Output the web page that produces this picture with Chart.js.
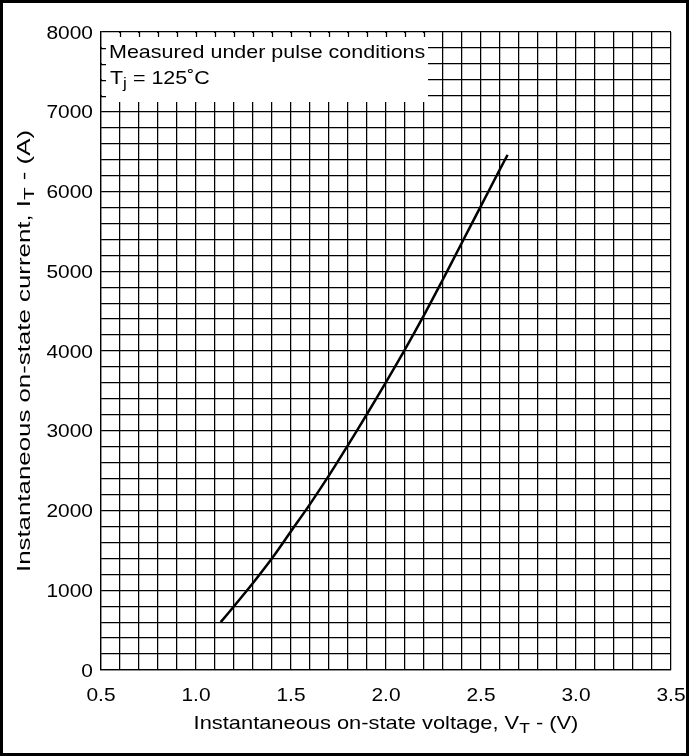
<!DOCTYPE html>
<html>
<head>
<meta charset="utf-8">
<script src="https://cdn.jsdelivr.net/npm/chart.js@4/dist/chart.umd.min.js"></script>
<style>
  html, body { margin: 0; padding: 0; background: #fff; }
  #frame { width: 689px; height: 756px; box-sizing: border-box; border: 3px solid #000; position: relative; background: #fff; }
</style>
</head>
<body>
<div id="frame"><canvas id="vt_plot"></canvas></div>
<script>
// on-state characteristic (V, A)
const voltage = [1.13, 1.2, 1.3, 1.4, 1.5, 1.6, 1.7, 1.8, 1.9, 2.0, 2.1, 2.2, 2.3, 2.4, 2.5, 2.6, 2.64];
const current = [600, 800, 1090, 1400, 1740, 2080, 2440, 2820, 3210, 3610, 4020, 4450, 4900, 5360, 5820, 6280, 6460];

const xTickLabels = ['0.5', '1.0', '1.5', '2.0', '2.5', '3.0', '3.5'];
const yTickLabels = ['0', '1000', '2000', '3000', '4000', '5000', '6000', '7000', '8000'];

// text pieces, second field marks a subscript
const xTitle = [['Instantaneous on-state voltage, V', 0], ['T', 1], [' - (V)', 0]];
const yTitle = [['Instantaneous on-state current, I', 0], ['T', 1], [' - (A)', 0]];
const noteLines = [
    [['Measured under pulse conditions', 0]],
    [['T', 0], ['j', 1], [' = 125\u02DAC', 0]]
];

const FONT = '"Liberation Sans", Arial, sans-serif';

// the sheet's lettering is wider than it is tall, so text gets stretched along its length
function drawRich(ctx, parts, x, y, align, size, stretch) {
    let widths = [];
    let total = 0;
    parts.forEach(p => {
        ctx.font = (p[1] ? size * 0.8 : size) + 'px ' + FONT;
        const w = ctx.measureText(p[0]).width * stretch;
        widths.push(w);
        total += w;
    });
    let cur = align === 'center' ? x - total / 2 : (align === 'right' ? x - total : x);
    parts.forEach((p, i) => {
        ctx.save();
        ctx.font = (p[1] ? size * 0.8 : size) + 'px ' + FONT;
        ctx.textAlign = 'left';
        ctx.textBaseline = 'alphabetic';
        ctx.fillStyle = '#000';
        ctx.translate(cur, y + (p[1] ? 4 : 0));
        ctx.scale(stretch, 1);
        ctx.fillText(p[0], 0, 0);
        ctx.restore();
        cur += widths[i];
    });
}

// white note box in the upper left corner, with short grid stubs on its edges
const noteBox = {
    id: 'noteBox',
    beforeDatasetsDraw(chart) {
        const ctx = chart.ctx;
        const area = chart.chartArea;
        const xs = chart.scales.x;
        const ys = chart.scales.y;
        const right = Math.round(xs.getPixelForValue(2.22));
        const bottom = Math.round(ys.getPixelForValue(7120));
        ctx.save();
        ctx.fillStyle = '#fff';
        ctx.fillRect(area.left + 1, area.top + 1, right - area.left - 1, bottom - area.top - 1);
        ctx.strokeStyle = '#000';
        ctx.lineWidth = 1.25;
        ctx.beginPath();
        xs.ticks.forEach(t => {
            const px = Math.round(xs.getPixelForValue(t.value)) + 0.5;
            if (px > area.left + 2 && px < right) {
                ctx.moveTo(px, area.top);
                ctx.lineTo(px, area.top + 5);
            }
        });
        ys.ticks.forEach(t => {
            const py = Math.round(ys.getPixelForValue(t.value)) + 0.5;
            if (py > area.top + 2 && py < bottom) {
                ctx.moveTo(area.left, py);
                ctx.lineTo(area.left + 5, py);
            }
        });
        ctx.stroke();
        ctx.restore();
    },
    afterDraw(chart) {
        const ctx = chart.ctx;
        const area = chart.chartArea;
        const xs = chart.scales.x;
        const ys = chart.scales.y;

        drawRich(ctx, noteLines[0], area.left + 8, area.top + 26, 'left', 19, 1.13);
        drawRich(ctx, noteLines[1], area.left + 9, area.top + 52, 'left', 19, 1.13);

        xTickLabels.forEach(s => {
            drawRich(ctx, [[s, 0]], xs.getPixelForValue(parseFloat(s)), area.bottom + 31, 'center', 18.5, 1.13);
        });
        yTickLabels.forEach(s => {
            drawRich(ctx, [[s, 0]], area.left - 8, ys.getPixelForValue(parseFloat(s)) + 6.5, 'right', 18.5, 1.13);
        });

        drawRich(ctx, xTitle, (area.left + area.right) / 2, area.bottom + 59, 'center', 19, 1.15);

        ctx.save();
        ctx.translate(27, (area.top + area.bottom) / 2);
        ctx.rotate(-Math.PI / 2);
        drawRich(ctx, yTitle, 0, 0, 'center', 19, 1.36);
        ctx.restore();
    }
};

new Chart(document.getElementById('vt_plot').getContext('2d'), {
    type: 'line',
    data: {
        datasets: [{
            data: voltage.map((v, i) => ({ x: v, y: current[i] })),
            borderColor: '#000',
            borderWidth: 2.5,
            pointRadius: 0,
            tension: 0.4,
            fill: false
        }]
    },
    options: {
        responsive: true,
        maintainAspectRatio: false,
        animation: false,
        layout: {
            padding: { top: 29, right: 15, left: 0, bottom: 0 }
        },
        plugins: {
            legend: { display: false },
            tooltip: { enabled: false }
        },
        scales: {
            x: {
                type: 'linear',
                min: 0.5,
                max: 3.5,
                ticks: { stepSize: 0.1, display: false },
                grid: { color: '#000', lineWidth: 1.25, drawTicks: false },
                border: { color: '#000', width: 1.25 },
                afterFit: s => { s.height = 83; }
            },
            y: {
                type: 'linear',
                min: 0,
                max: 8000,
                ticks: { stepSize: 200, display: false },
                grid: { color: '#000', lineWidth: 1.25, drawTicks: false },
                border: { color: '#000', width: 1.25 },
                afterFit: s => { s.width = 98; }
            }
        }
    },
    plugins: [noteBox]
});
</script>
</body>
</html>
